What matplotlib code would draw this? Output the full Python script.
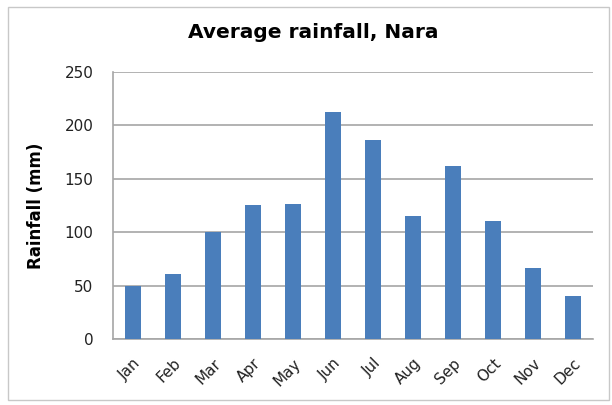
import matplotlib.pyplot as plt
from matplotlib.patches import Rectangle

months = ['Jan', 'Feb', 'Mar', 'Apr', 'May', 'Jun', 'Jul', 'Aug', 'Sep', 'Oct', 'Nov', 'Dec']
rainfall = [50, 61, 100, 125, 126, 212, 186, 115, 162, 110, 66, 40]
yticks = [0, 50, 100, 150, 200, 250]

fig = plt.figure(figsize=(6.12, 4.05), dpi=100)
ax = fig.add_axes([113/612, 1 - 339/405, 480/612, (339 - 71.7)/405])

# outer chart border
fig.patches.append(Rectangle((8/612, 5/405), 601/612, 393/405, transform=fig.transFigure,
                             fill=False, edgecolor='#c8c8c8', lw=1))

x = range(len(months))
ax.bar(x, rainfall, width=0.42, color='#4a7ebb', zorder=3)

ax.set_xlim(-0.5, 11.5)
ax.set_ylim(0, 250)
ax.set_yticks(yticks)
ax.grid(axis='y', color='#a6a6a6', lw=1.2, zorder=0)
ax.set_xticks(list(x))
ax.set_xticklabels(months, rotation=45, ha='right', rotation_mode='anchor', fontsize=11)
ax.tick_params(axis='both', length=0, labelsize=11, colors='#222222')
ax.tick_params(axis='x', pad=12)
ax.tick_params(axis='y', pad=14)

for s in ['top', 'right']:
    ax.spines[s].set_visible(False)
for s in ['left', 'bottom']:
    ax.spines[s].set_color('#a6a6a6')
    ax.spines[s].set_linewidth(1.2)

ax.set_ylabel('Rainfall (mm)', fontsize=12, fontweight='bold', labelpad=14)
fig.text(313/612, 1 - 33/405, 'Average rainfall, Nara', ha='center', va='center',
         fontsize=14.5, fontweight='bold')

fig.savefig('out.png', dpi=100)
